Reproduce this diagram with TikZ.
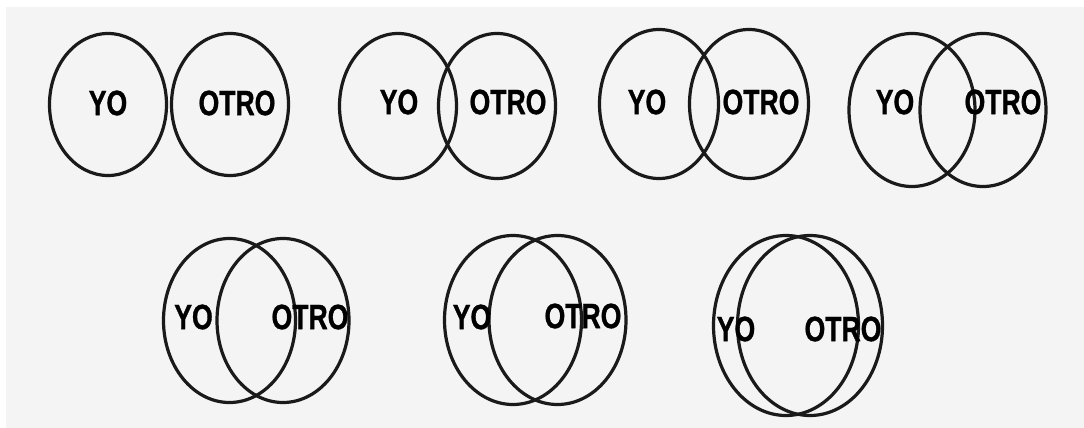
\documentclass[tikz,border=0pt]{standalone}
\usepackage{fontspec}
\usepackage{graphicx}
\setmainfont{Liberation Sans}
\newfontfamily\lblfont{Liberation Sans Bold}[FakeBold=1.2]
\definecolor{bgray}{HTML}{F4F4F4}
\definecolor{ink}{HTML}{1A1A1A}
\newcommand\lbl[1]{\scalebox{0.76}[1]{#1}}
\tikzset{
  ring/.style={draw=ink, line width=3.2pt},
  word/.style={inner sep=0pt, font=\lblfont\fontsize{35}{35}\selectfont, text=black}
}
\begin{document}
\begin{tikzpicture}[x=1pt,y=-1pt]
\useasboundingbox (0,0) rectangle (1084,428);
\fill[white] (0,0) rectangle (1084,428);
\fill[bgray] (6,7) rectangle (1084,428);
% pair 1
\draw[ring] (108,104.5) ellipse [x radius=58.5, y radius=71];
\draw[ring] (230,104.5) ellipse [x radius=58.5, y radius=71];
\node[word] (yo1) at (108,103) {\lbl{YO}};
\node[word] (ot1) at (237,103) {\lbl{OTRO}};
% pair 2
\draw[ring] (398,106) ellipse [x radius=58.5, y radius=72.5];
\draw[ring] (497,106) ellipse [x radius=58.5, y radius=72.5];
\node[word] (yo2) at (399,102) {\lbl{YO}};
\node[word] (ot2) at (508,102) {\lbl{OTRO}};
% pair 3
\draw[ring] (659,104) ellipse [x radius=59.5, y radius=74.5];
\draw[ring] (749,104) ellipse [x radius=59.5, y radius=74.5];
\node[word] (yo3) at (647,102) {\lbl{YO}};
\node[word] (ot3) at (761,102) {\lbl{OTRO}};
% pair 4
\draw[ring] (912,110) ellipse [x radius=63, y radius=76.5];
\draw[ring] (983,110) ellipse [x radius=63, y radius=76.5];
\node[word] (yo4) at (895,102) {\lbl{YO}};
\node[word] (ot4) at (1003,102) {\lbl{OTRO}};
% pair 5
\draw[ring] (229.5,320.5) ellipse [x radius=66, y radius=82];
\draw[ring] (283,320.5) ellipse [x radius=66, y radius=82];
\node[word] (yo5) at (193.5,317) {\lbl{YO}};
\node[word] (ot5) at (310,317) {\lbl{OTRO}};
% pair 6
\draw[ring] (513,320) ellipse [x radius=68.5, y radius=84.5];
\draw[ring] (557.5,320) ellipse [x radius=68.5, y radius=84.5];
\node[word] (yo6) at (472,317) {\lbl{YO}};
\node[word] (ot6) at (583,316) {\lbl{OTRO}};
% pair 7
\draw[ring] (786,325.5) ellipse [x radius=72.5, y radius=90];
\draw[ring] (810,325.5) ellipse [x radius=72.5, y radius=90];
\node[word] (yo7) at (736,329) {\lbl{YO}};
\node[word] (ot7) at (843,329) {\lbl{OTRO}};
\end{tikzpicture}
\end{document}
